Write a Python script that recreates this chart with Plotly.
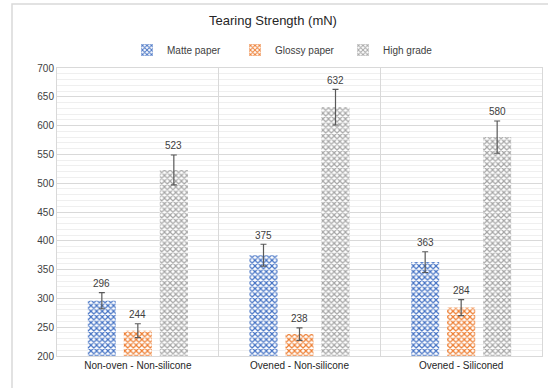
import plotly.graph_objects as go

categories = ["Non-oven - Non-silicone", "Ovened - Non-silicone", "Ovened - Siliconed"]
series_names = ["Matte paper", "Glossy paper", "High grade"]
matte = [296, 375, 363]
glossy = [244, 238, 284]
high = [523, 632, 580]
matte_err = [14, 19, 18]
glossy_err = [12, 11, 14]
high_err = [26, 31, 28]
y_ticks = [200, 250, 300, 350, 400, 450, 500, 550, 600, 650, 700]

colors = ["#4472C4", "#ED7D31", "#A5A5A5"]
values = [matte, glossy, high]
errors = [matte_err, glossy_err, high_err]

fig = go.Figure()
for name, vals, errs, col in zip(series_names, values, errors, colors):
    fig.add_trace(go.Bar(
        name=name, x=categories, y=vals,
        marker=dict(color="white", line=dict(width=0),
                    pattern=dict(shape="x", fgcolor=col, bgcolor="white",
                                 size=4, solidity=0.5, fillmode="replace")),
        error_y=dict(type="data", array=errs, visible=True,
                     color="#595959", thickness=1.2, width=3),
    ))

shifts = [-36, 0, 36]
for vals, errs, sh in zip(values, errors, shifts):
    for c, v, e in zip(categories, vals, errs):
        fig.add_annotation(x=c, y=v + e, xref="x", yref="y", text=str(v),
                           showarrow=False, xshift=sh, yshift=9,
                           font=dict(size=10, color="#404040", family="Liberation Sans, Arial"))

L, R, T, B = 57, 6, 68, 32
W, H = 548, 388
pw, ph = W - L - R, H - T - B

fig.add_shape(type="rect", xref="paper", yref="paper",
              x0=(12 - L) / pw, x1=1 + (W + 2 - (W - R)) / pw,
              y0=-(H + 2 - (H - B)) / ph, y1=1 + (T - 4) / ph,
              line=dict(color="#D9D9D9", width=1.5), fillcolor="rgba(0,0,0,0)", layer="below")

fig.update_layout(
    width=W, height=H,
    margin=dict(l=L, r=R, t=T, b=B, autoexpand=False),
    paper_bgcolor="white", plot_bgcolor="white",
    barmode="group", bargap=0.332, bargroupgap=0.22,
    font=dict(family="Liberation Sans, Arial", color="#404040", size=10),
    title=dict(text="Tearing Strength (mN)", x=273 / W, xref="container", xanchor="center",
               y=1 - 20 / H, yanchor="middle", yref="container",
               font=dict(size=13, color="#262626")),
    showlegend=True,
    legend=dict(orientation="h", x=(145 - 18 - L) / pw, xanchor="left",
                y=1 + (T - 50) / ph, yanchor="middle",
                font=dict(size=10, color="#404040"), entrywidth=63,
                itemwidth=30, bgcolor="rgba(0,0,0,0)"),
    xaxis=dict(showgrid=True, tickson="boundaries", gridcolor="#D9D9D9", gridwidth=1,
               showline=True, linecolor="#D9D9D9", mirror=True, ticks="",
               tickfont=dict(size=10, color="#262626")),
    yaxis=dict(range=[200, 700], tickvals=y_ticks, showgrid=True, gridcolor="#D9D9D9",
               gridwidth=1, showline=True, linecolor="#D9D9D9", mirror=True, ticks="",
               zeroline=False, tickfont=dict(size=10, color="#404040"),
               minor=dict(dtick=10, showgrid=True, gridcolor="#EFEFEF", gridwidth=1)),
)

fig.write_html("out.html", config={"displayModeBar": False},
               post_script="document.body.style.margin='0';document.body.style.overflow='hidden';")
